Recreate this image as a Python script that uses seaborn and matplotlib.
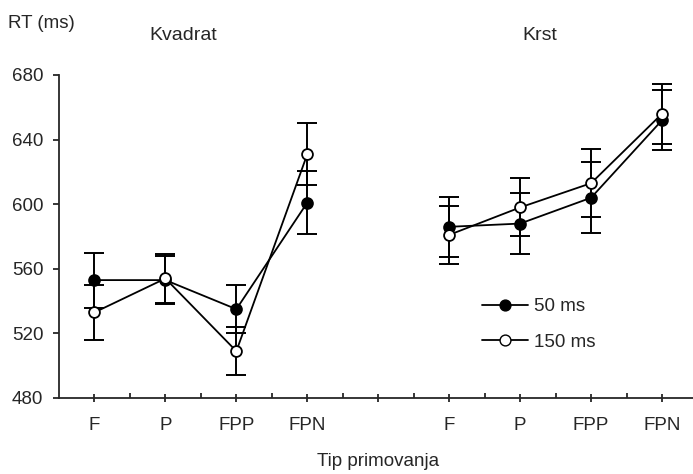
import numpy as np
import pandas as pd
import matplotlib
matplotlib.use("Agg")
import matplotlib.pyplot as plt
from matplotlib.lines import Line2D
import seaborn as sns

# Priming conditions and mean reaction times (ms) with error-bar half-widths
categories = ["F", "P", "FPP", "FPN"]
shapes = ["Kvadrat", "Krst"]

kvadrat_50 = [553, 553, 535, 601]
kvadrat_50_err = [17, 15, 15, 19.5]
kvadrat_150 = [533, 554, 509, 631]
kvadrat_150_err = [17, 15, 15, 19]

krst_50 = [586, 588, 604, 652]
krst_50_err = [18.5, 19, 22, 18.5]
krst_150 = [581, 598, 613, 656]
krst_150_err = [18, 18, 21, 18.5]

yticks = [480, 520, 560, 600, 640, 680]

# Slot positions: four categories per shape, one empty slot between groups
group_offset = {"Kvadrat": 0, "Krst": 5}

rows = []
for shape, soa, vals, errs in [
    ("Kvadrat", "50 ms", kvadrat_50, kvadrat_50_err),
    ("Kvadrat", "150 ms", kvadrat_150, kvadrat_150_err),
    ("Krst", "50 ms", krst_50, krst_50_err),
    ("Krst", "150 ms", krst_150, krst_150_err),
]:
    for i, (c, v, e) in enumerate(zip(categories, vals, errs)):
        rows.append({"shape": shape, "soa": soa, "cat": c,
                     "pos": group_offset[shape] + i, "rt": v, "err": e})
df = pd.DataFrame(rows)

sns.set_style("ticks")
plt.rcParams["font.family"] = ["Liberation Sans", "DejaVu Sans"]
plt.rcParams["axes.linewidth"] = 1.3

W, H = 693, 474
fig = plt.figure(figsize=(W / 100, H / 100), dpi=100)
ax = fig.add_axes([59 / W, 76 / H, (W - 59) / W, (398 - 75) / H])

MS = 7.8
styles = {"50 ms": ("black", 3), "150 ms": ("white", 4)}
for soa in ["50 ms", "150 ms"]:
    face, z = styles[soa]
    sub = df[df["soa"] == soa]
    ax.errorbar(sub["pos"], sub["rt"], yerr=sub["err"], fmt="none",
                ecolor="black", elinewidth=1.4, capsize=7.5, capthick=1.4,
                zorder=2)
    sns.lineplot(data=sub, x="pos", y="rt", units="shape", estimator=None,
                 color="black", lw=1.3, marker="o", markersize=MS,
                 markerfacecolor=face, markeredgecolor="black",
                 markeredgewidth=1.3, legend=False, ax=ax, zorder=z)

ax.set_xlim(-0.5, (W - 94) / 71)
ax.set_ylim(480, 680)
ax.set_yticks(yticks)
ax.set_yticklabels([str(t) for t in yticks])

major = list(range(9))
ax.set_xticks(major)
ax.set_xticklabels(categories + [""] + categories)
ax.set_xticks([m + 0.5 for m in range(8)], minor=True)

ax.tick_params(axis="y", direction="out", length=4.3, width=1.3,
               pad=7, labelsize=13.5)
ax.tick_params(axis="x", which="major", direction="inout", length=5.8,
               width=1.3, pad=11, labelsize=13.5)
ax.tick_params(axis="x", which="minor", direction="in", length=3.6,
               width=1.3)

sns.despine(ax=ax, top=True, right=True)
ax.set_xlabel("")
ax.set_ylabel("")

# Legend for the two SOA conditions
handles = [
    Line2D([], [], color="black", lw=1.3, marker="o", markersize=MS,
           markerfacecolor="black", markeredgecolor="black"),
    Line2D([], [], color="black", lw=1.3, marker="o", markersize=MS,
           markerfacecolor="white", markeredgecolor="black"),
]
ax.legend(handles, ["50 ms", "150 ms"], loc="upper left",
          bbox_to_anchor=(482 / W, 1 - 298 / H),
          bbox_transform=fig.transFigure, frameon=False, fontsize=13.5,
          handlelength=2.45, handletextpad=0.32, labelspacing=1.0,
          borderpad=0, borderaxespad=0)

fig.text(8 / W, 1 - 24 / H, "RT (ms)", ha="left", va="center", fontsize=13.5)
fig.text(183 / W, 1 - 35 / H, "Kvadrat", ha="center", va="center", fontsize=14)
fig.text(540 / W, 1 - 35 / H, "Krst", ha="center", va="center", fontsize=14)
fig.text(378 / W, 1 - 462 / H, "Tip primovanja", ha="center", va="center",
         fontsize=13.5)

fig.savefig("out.png", dpi=100)
